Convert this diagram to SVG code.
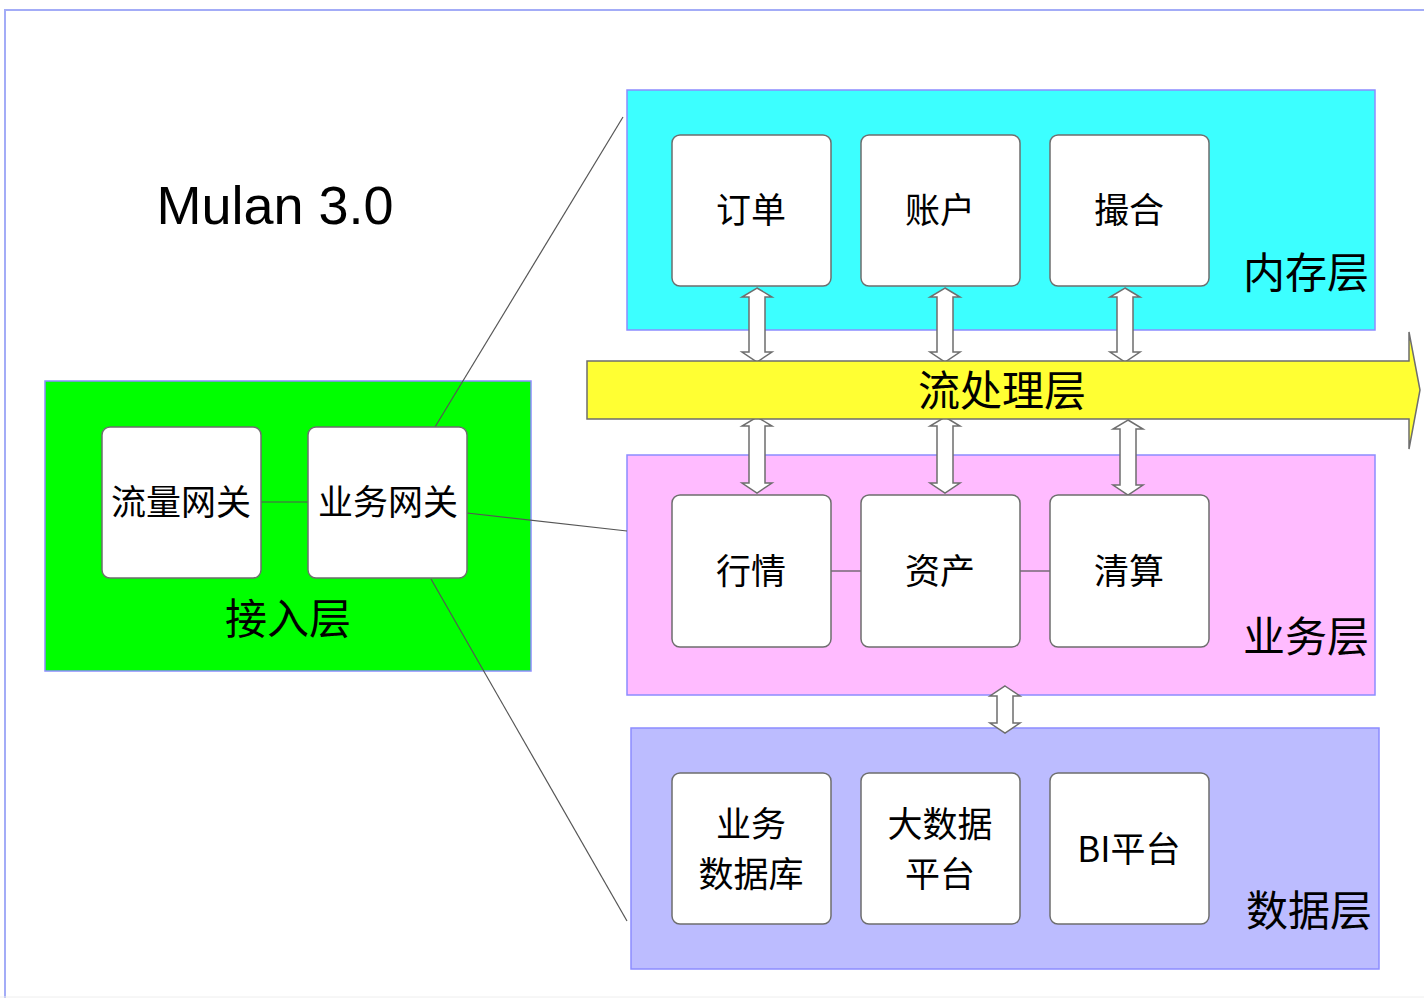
<svg xmlns="http://www.w3.org/2000/svg" width="1424" height="998" viewBox="0 0 1424 998">
<style>
.frame{fill:#ffffff;stroke:#a3acf7;stroke-width:2}
.layer{stroke:#8c8cff;stroke-width:1.5}
.box{fill:#ffffff;stroke:#6e6e6e;stroke-width:1.5}
.lbl{font-family:"Noto Sans CJK SC","Liberation Sans",sans-serif;font-size:35px;fill:#000;text-anchor:middle;dominant-baseline:central}
.big{font-family:"Noto Sans CJK SC","Liberation Sans",sans-serif;font-size:42px;fill:#000;text-anchor:middle;dominant-baseline:central}
.dbl{fill:#ffffff;stroke:#6e6e6e;stroke-width:1.5}
.conn{stroke:#555;stroke-width:1.2;fill:none}
</style>
<rect x="0" y="0" width="1424" height="998" fill="#ffffff"/>
<rect class="frame" x="5" y="10" width="1440" height="1000"/>
<line x1="0" y1="997" x2="1424" y2="997" stroke="#eeeeee" stroke-width="1"/>
<text x="275" y="205" font-family="'Liberation Sans',Arial,sans-serif" font-size="54" text-anchor="middle" dominant-baseline="central" fill="#000">Mulan 3.0</text>

<g id="layer-memory">
<rect class="layer" x="627" y="90" width="748" height="240" fill="#3cffff"/>
<text class="big" x="1306" y="269">内存层</text>
</g>
<g id="layer-business">
<rect class="layer" x="627" y="455" width="748" height="240" fill="#ffbbff"/>
<text class="big" x="1306" y="633">业务层</text>
</g>
<g id="layer-data">
<rect class="layer" x="631" y="728" width="748" height="241" fill="#bcbcff"/>
<text class="big" x="1309" y="907">数据层</text>
</g>
<g id="layer-access">
<rect class="layer" x="45" y="381" width="486" height="290" fill="#00ff00"/>
<text class="big" x="288" y="615">接入层</text>
</g>

<g id="connectors">
<line class="conn" x1="435" y1="427" x2="623" y2="117"/>
<line class="conn" x1="467" y1="513" x2="627" y2="531"/>
<line class="conn" x1="431" y1="579" x2="627" y2="921"/>
<line class="conn" x1="261" y1="502" x2="308" y2="502"/>
<line class="conn" x1="831" y1="571" x2="861" y2="571"/>
<line class="conn" x1="1020" y1="571" x2="1050" y2="571"/>
<path class="dbl" d="M757,288 L772,297 L765,297 L765,352 L772,352 L757,362 L742,352 L749,352 L749,297 L742,297 Z"/>
<path class="dbl" d="M945,288 L960,297 L953,297 L953,352 L960,352 L945,362 L930,352 L937,352 L937,297 L930,297 Z"/>
<path class="dbl" d="M1125,288 L1140,297 L1133,297 L1133,352 L1140,352 L1125,362 L1110,352 L1117,352 L1117,297 L1110,297 Z"/>
<path class="dbl" d="M757,417 L772,426 L765,426 L765,483 L772,483 L757,493 L742,483 L749,483 L749,426 L742,426 Z"/>
<path class="dbl" d="M945,417 L960,426 L953,426 L953,483 L960,483 L945,493 L930,483 L937,483 L937,426 L930,426 Z"/>
<path class="dbl" d="M1128,420 L1143,429 L1136,429 L1136,485 L1143,485 L1128,495 L1113,485 L1120,485 L1120,429 L1113,429 Z"/>
<path class="dbl" d="M1005,686 L1020,696 L1013,696 L1013,723 L1020,723 L1005,733 L990,723 L997,723 L997,696 L990,696 Z"/>
</g>

<g id="stream-layer">
<path d="M587,361 L1409,361 L1409,332 L1420,390 L1409,449 L1409,419 L587,419 Z" fill="#ffff33" stroke="#6e6e6e" stroke-width="1.5"/>
<text class="big" x="1002" y="387">流处理层</text>
</g>

<g id="node-order"><rect class="box" x="672" y="135" width="159" height="151" rx="8"/><text class="lbl" x="751" y="207">订单</text></g>
<g id="node-account"><rect class="box" x="861" y="135" width="159" height="151" rx="8"/><text class="lbl" x="940" y="207">账户</text></g>
<g id="node-match"><rect class="box" x="1050" y="135" width="159" height="151" rx="8"/><text class="lbl" x="1129" y="207">撮合</text></g>

<g id="node-quote"><rect class="box" x="672" y="495" width="159" height="152" rx="8"/><text class="lbl" x="751" y="568">行情</text></g>
<g id="node-asset"><rect class="box" x="861" y="495" width="159" height="152" rx="8"/><text class="lbl" x="940" y="568">资产</text></g>
<g id="node-clear"><rect class="box" x="1050" y="495" width="159" height="152" rx="8"/><text class="lbl" x="1129" y="568">清算</text></g>

<g id="node-bizdb"><rect class="box" x="672" y="773" width="159" height="151" rx="8"/><text class="lbl" x="751" y="821">业务</text><text class="lbl" x="751" y="871">数据库</text></g>
<g id="node-bigdata"><rect class="box" x="861" y="773" width="159" height="151" rx="8"/><text class="lbl" x="940" y="821">大数据</text><text class="lbl" x="940" y="871">平台</text></g>
<g id="node-bi"><rect class="box" x="1050" y="773" width="159" height="151" rx="8"/><text class="lbl" x="1129" y="846">BI平台</text></g>

<g id="node-trafficgw"><rect class="box" x="102" y="427" width="159" height="151" rx="8"/><text class="lbl" x="181" y="499">流量网关</text></g>
<g id="node-bizgw"><rect class="box" x="308" y="427" width="159" height="151" rx="8"/><text class="lbl" x="388" y="499">业务网关</text></g>
</svg>
